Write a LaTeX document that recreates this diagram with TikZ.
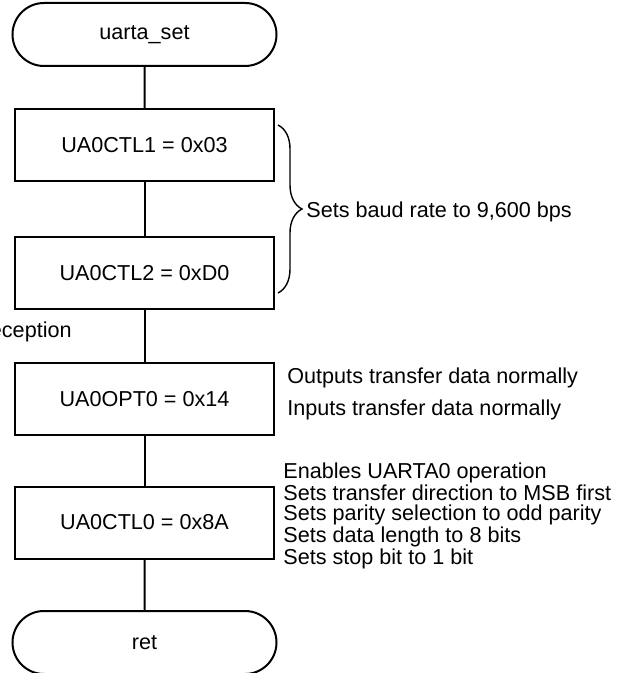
\documentclass[tikz,border=0pt]{standalone}
\usepackage{fontspec}
\setmainfont{Liberation Sans}
\usetikzlibrary{shapes.misc, decorations.pathreplacing}

\begin{document}
\begin{tikzpicture}[x=0.5pt, y=-0.5pt,
    every node/.style={font=\fontsize{10.8}{10}\selectfont},
    term/.style={rounded rectangle, draw, line width=1pt, minimum width=132pt, minimum height=31.5pt, inner sep=0pt},
    regbox/.style={rectangle, draw, line width=1pt, minimum width=129.5pt, minimum height=36pt, inner sep=0pt},
    note/.style={anchor=west, inner sep=0pt, align=left}]
           \useasboundingbox (0,0) rectangle (623,673);
           \clip (0,0) rectangle (623,673);

           \node[term] at (144.5,34.5) (start) {uarta\_set};
           \node[regbox] at (144.5,145) (ctl1) {UA0CTL1 = 0x03};
           \node[regbox] at (144.5,273) (ctl2) {UA0CTL2 = 0xD0};
           \node[regbox] at (144.5,399) (opt0) {UA0OPT0 = 0x14};
           \node[regbox] at (144.5,522.5) (ctl0) {UA0CTL0 = 0x8A};
           \node[term] at (144.5,642.5) (ret) {ret};

           \draw[line width=1pt] (start) -- (ctl1);
           \draw[line width=1pt] (ctl1) -- (ctl2);
           \draw[line width=1pt] (ctl2) -- (opt0);
           \draw[line width=1pt] (opt0) -- (ctl0);
           \draw[line width=1pt] (ctl0) -- (ret);

           % baud rate brace
           \coordinate (btop) at (278,125);
           \coordinate (bbot) at (278,293);
           \draw[line width=0.7pt, decorate, decoration={brace, amplitude=12pt}] (btop) -- (bbot);
           \node[note] at (306,212) (baud) {Sets baud rate to 9,600 bps};

           \node[anchor=east, inner sep=0pt] at (72,332) (rx) {eception};

           \node[note] at (287,378) (outn) {Outputs transfer data normally};
           \node[note] at (287,410) (inn) {Inputs transfer data normally};

           \node[note] at (283,516) (bits) {Enables UARTA0 operation\\
             Sets transfer direction to MSB first\\
             Sets parity selection to odd parity\\
             Sets data length to 8 bits\\
             Sets stop bit to 1 bit};
        \end{tikzpicture}
\end{document}
